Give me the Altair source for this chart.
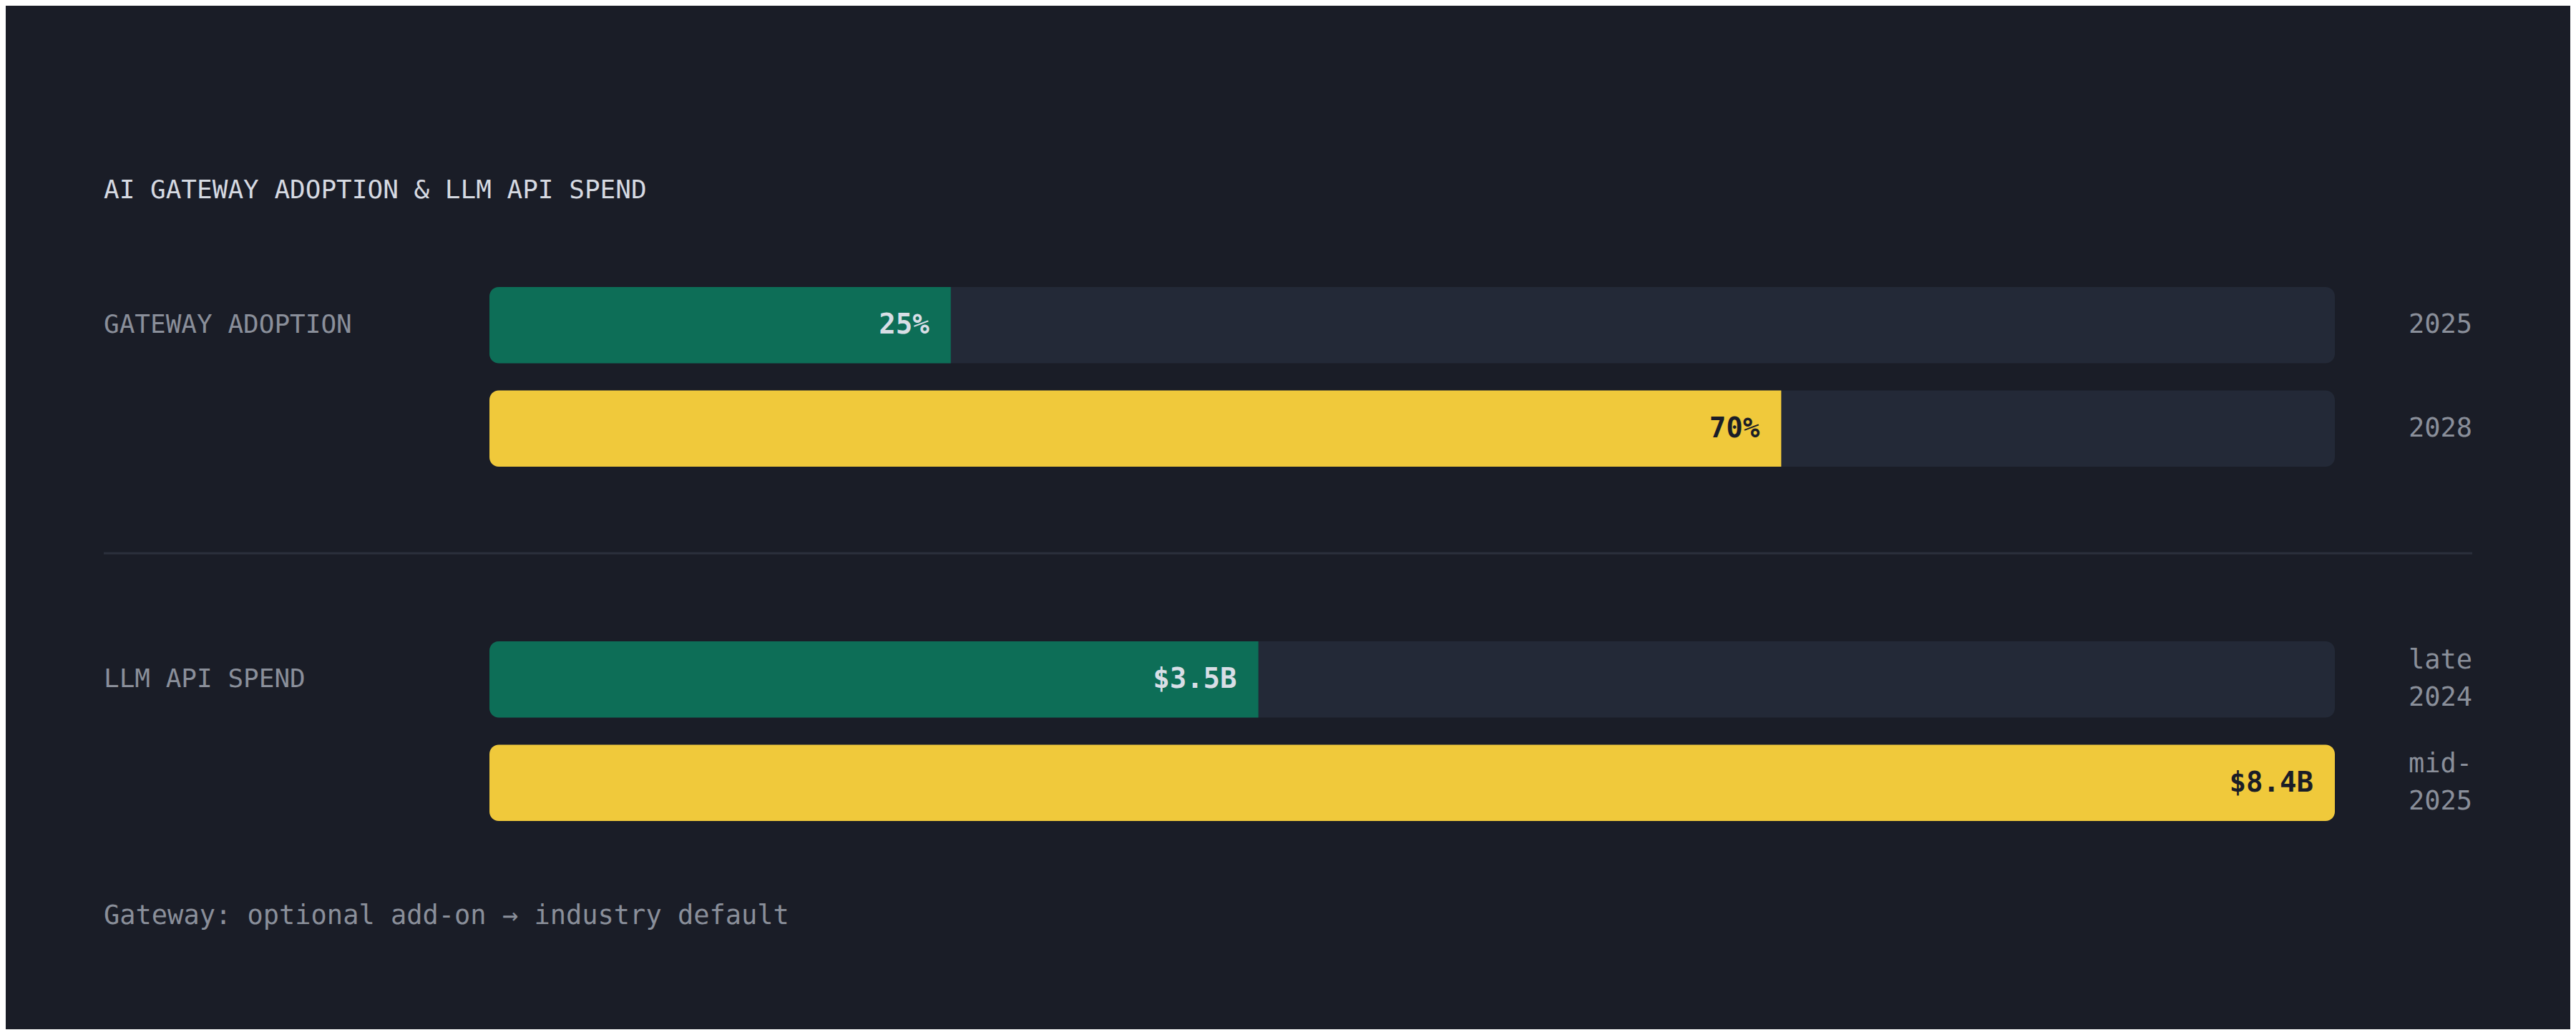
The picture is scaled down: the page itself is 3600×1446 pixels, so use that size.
import altair as alt
import pandas as pd

# ---------------- data ----------------
title_text = "AI GATEWAY ADOPTION & LLM API SPEND"
footer_text = "Gateway: optional add-on \u2192 industry default"

section_names = ["GATEWAY ADOPTION", "LLM API SPEND"]

adoption_periods = ["2025", "2028"]
adoption_values = [25, 70]          # percent of orgs
adoption_max = 100

spend_periods = ["late 2024", "mid-2025"]
spend_values = [3.5, 8.4]           # $ billions
spend_max = max(spend_values)

stages = ["before", "after"]

# ---------------- style ----------------
FONT = "DejaVu Sans Mono"
BG = "#1a1d27"
TRACK = "#232937"
GREEN = "#0d6e57"
YELLOW = "#f0c93b"
LIGHT = "#d8dee6"
DARK = "#1a1d27"
GRAY = "#8a8f9a"
TITLE_C = "#d6dae2"
DIVIDER = "#2b303c"

X_RANGE = [676, 3255]
LINE_H = 52


def section_df(name, periods, values, maxv, fmt):
    return pd.DataFrame({
        "section": name,
        "period": periods,
        "period_text": [p.replace(" ", "\n").replace("-", "-\n") for p in periods],
        "value": values,
        "max": maxv,
        "zero": 0,
        "idx": list(range(len(periods))),
        "stage": stages[: len(periods)],
        "label": [fmt(v) for v in values],
    })


def section_layer(df, y_range):
    xs = alt.Scale(domain=[0, float(df["max"].iloc[0])], range=X_RANGE, nice=False)
    ys = alt.Scale(domain=list(df["period"]), range=y_range,
                   paddingInner=0.264, paddingOuter=0)
    y = alt.Y("period:N", scale=ys, axis=None)
    base = alt.Chart(df)
    color = alt.Color("stage:N", scale=alt.Scale(domain=stages, range=[GREEN, YELLOW]),
                      legend=None)
    n_lines = int(df["period_text"].str.count("\n").max()) + 1

    track = base.mark_bar(cornerRadius=13, color=TRACK).encode(
        x=alt.X("zero:Q", scale=xs, axis=None), x2="max:Q", y=y)
    fill_part = base.transform_filter("datum.value < datum.max").mark_bar(
        cornerRadiusTopLeft=13, cornerRadiusBottomLeft=13).encode(
        x=alt.X("zero:Q", scale=xs, axis=None), x2="value:Q", y=y, color=color)
    fill_full = base.transform_filter("datum.value >= datum.max").mark_bar(
        cornerRadius=13).encode(
        x=alt.X("zero:Q", scale=xs, axis=None), x2="value:Q", y=y, color=color)
    value_text = base.mark_text(align="right", baseline="middle", dx=-30, font=FONT,
                                fontSize=39, fontWeight="bold").encode(
        x=alt.X("value:Q", scale=xs, axis=None), y=y, text="label:N",
        color=alt.condition("datum.idx == 0", alt.value(LIGHT), alt.value(DARK)))
    sec_label = base.transform_filter("datum.idx == 0").mark_text(
        align="left", baseline="middle", font=FONT, fontSize=36, color=GRAY).encode(
        x=alt.value(137), y=y, text="section:N")
    period_label = base.mark_text(align="left", baseline="middle", lineBreak="\n",
                                  lineHeight=LINE_H, dy=-(n_lines - 1) * LINE_H / 2,
                                  font=FONT, fontSize=37, color=GRAY).encode(
        x=alt.value(3358), y=y, text="period_text:N")
    return alt.layer(track, fill_part, fill_full, value_text, sec_label, period_label)


adopt_df = section_df(section_names[0], adoption_periods, adoption_values, adoption_max,
                      lambda v: f"{v:.0f}%")
spend_df = section_df(section_names[1], spend_periods, spend_values, spend_max,
                      lambda v: f"${v:.1f}B")

sec_a = section_layer(adopt_df, [393, 644])
sec_b = section_layer(spend_df, [888, 1139])

texts = pd.DataFrame({"title": [title_text], "footer": [footer_text]})

divider = alt.Chart(texts).mark_rule(color=DIVIDER, strokeWidth=3).encode(
    x=alt.value(137), x2=alt.value(3447), y=alt.value(765))
title = alt.Chart(texts).mark_text(align="left", baseline="alphabetic", font=FONT,
                                   fontSize=36, color=TITLE_C).encode(
    x=alt.value(137), y=alt.value(269), text="title:N")
footer = alt.Chart(texts).mark_text(align="left", baseline="alphabetic", font=FONT,
                                    fontSize=37, color=GRAY).encode(
    x=alt.value(137), y=alt.value(1283), text="footer:N")

chart = alt.layer(sec_a, sec_b, divider, title, footer).resolve_scale(
    x="independent", y="independent"
).properties(
    width=3584, height=1430, padding=0,
    autosize=alt.AutoSizeParams(type="none"),
    background=BG,
).configure_view(stroke=None)

chart.save("out.html", embed_options={"renderer": "svg", "actions": False})
